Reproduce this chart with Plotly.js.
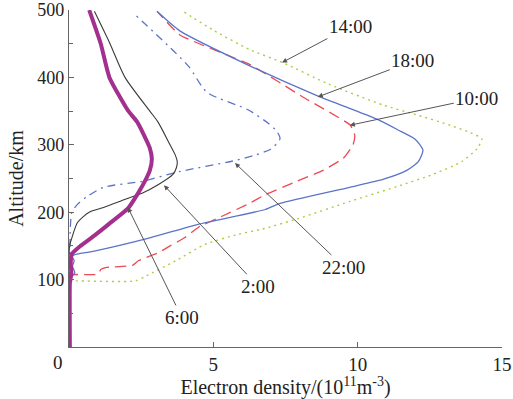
<!DOCTYPE html>
<html>
<head>
<meta charset="utf-8">
<script src="https://cdn.plot.ly/plotly-3.0.1.min.js"></script>
<style>
html,body{margin:0;padding:0;background:#fff;}
#chart{width:513px;height:399px;}
</style>
</head>
<body>
<div id="chart"></div>
<script>
// Electron density (10^11 m^-3) vs altitude (km)
const alt_0600 = [0, 95, 100, 110, 125, 138, 150, 166, 183, 206, 228, 246, 262, 279, 295, 305, 334, 351, 400, 450, 500];
const ne_0600  = [0.03, 0.03, 0.05, 0.08, 0.06, 0.1, 0.4, 0.9, 1.4, 2.05, 2.39, 2.63, 2.8, 2.87, 2.8, 2.7, 2.36, 2.04, 1.4, 1.1, 0.7];

const alt_0200 = [0, 150, 162, 185, 200, 207, 220, 228, 241, 256, 266, 275, 285, 300, 334, 350, 400, 450, 498];
const ne_0200  = [0.02, 0.02, 0.1, 0.3, 0.7, 1.2, 2.0, 2.53, 3.1, 3.6, 3.72, 3.75, 3.68, 3.5, 3.08, 2.8, 1.94, 1.42, 0.88];

const alt_2200 = [0, 130, 180, 200, 212, 224, 237, 246, 260, 276, 284, 294, 309, 320, 332, 352, 378, 417, 491];
const ne_2200  = [0.02, 0.03, 0.05, 0.1, 0.3, 0.66, 1.2, 2.56, 3.8, 5.68, 6.4, 7.0, 7.31, 7.2, 6.9, 6.2, 4.78, 4.13, 2.34];

const alt_1800 = [0, 100, 105, 110, 120, 128, 135, 138, 142, 162, 182, 204, 213, 237, 249, 262, 275, 292, 308, 322, 338, 373, 419, 469, 498];
const ne_1800  = [0.02, 0.02, 0.1, 0.2, 0.12, 0.18, 0.1, 0.3, 0.83, 2.8, 4.47, 6.8, 7.31, 9.73, 10.9, 11.7, 12.1, 12.26, 12.0, 11.4, 10.67, 8.59, 6.17, 3.84, 3.05];

const alt_1000 = [0, 100, 107, 108, 115, 118, 121, 128, 140, 150, 162, 178, 194, 212, 226, 246, 262, 280, 300, 314, 329, 371, 419, 463, 498];
const ne_1000  = [0.02, 0.02, 0.1, 1.0, 1.1, 1.3, 2.2, 2.4, 3.1, 3.5, 4.0, 4.5, 5.3, 6.2, 6.8, 7.9, 8.8, 9.5, 9.84, 9.9, 9.75, 8.1, 6.27, 3.84, 3.05];

const alt_1400 = [0, 97, 98, 98, 105, 128, 152, 167, 175, 190, 216, 240, 256, 275, 294, 309, 318, 329, 345, 359, 390, 422, 441, 470, 498];
const ne_1400  = [0.02, 0.02, 0.15, 2.3, 2.65, 3.7, 4.7, 5.85, 6.7, 7.9, 9.73, 11.5, 12.6, 13.6, 14.13, 14.3, 13.9, 13.2, 12.0, 10.88, 9.0, 7.4, 6.27, 5.0, 3.95];

const xTickVals = [5, 10, 15];
const yTickVals = [100, 200, 300, 400, 500];

// label, arrow-tip density, arrow-tip altitude
const labelText = ['14:00', '18:00', '10:00', '22:00', '2:00', '6:00'];
const labelNe   = [7.38, 8.62, 9.73, 5.75, 3.29, 2.04];
const labelAlt  = [422, 371, 329, 273, 240, 207];
const labelAx   = [68, 95, 127, 109, 94, 54];
const labelAy   = [-36, -36, -27, 104, 101, 110];

const serif = 'Liberation Serif, Times New Roman, serif';

function tr(x, y, color, width, dash, smooth) {
  return {x: x, y: y, type: 'scatter', mode: 'lines',
    line: {color: color, width: width, dash: dash, shape: 'spline', smoothing: smooth},
    hoverinfo: 'skip', showlegend: false};
}

const data = [
  tr(ne_1400, alt_1400, '#a6d043', 1.4, '2px,4px', 0.6),
  tr(ne_1000, alt_1000, '#ec4a52', 1.3, '11px,6px', 0.4),
  tr(ne_1800, alt_1800, '#5b74c9', 1.3, 'solid', 0.6),
  tr(ne_2200, alt_2200, '#5b74c9', 1.3, '8px,5px,2px,5px', 0.7),
  tr(ne_0200, alt_0200, '#3a3a3a', 1.1, 'solid', 0.7),
  tr(ne_0600, alt_0600, '#a3308e', 4, 'solid', 0.5)
];

const annotations = labelText.map((t, i) => ({
  x: labelNe[i], y: labelAlt[i], xref: 'x', yref: 'y',
  text: t, showarrow: true, ax: labelAx[i], ay: labelAy[i],
  arrowhead: 2, arrowsize: 1, arrowwidth: 1, arrowcolor: '#555',
  font: {family: serif, size: 19, color: '#222'}
}));
annotations.push({
  x: -0.025, y: -0.045, xref: 'paper', yref: 'paper', text: '0',
  xanchor: 'center', yanchor: 'middle',
  showarrow: false, font: {family: serif, size: 19, color: '#222'}
});

const layout = {
  width: 513, height: 399,
  margin: {l: 69, r: 11, t: 10, b: 52},
  paper_bgcolor: '#fff', plot_bgcolor: '#fff',
  font: {family: serif, color: '#222'},
  xaxis: {
    range: [0, 15], tickvals: xTickVals, ticks: 'inside', ticklen: 5,
    tickcolor: '#666', showline: true, linecolor: '#666', linewidth: 1.2,
    showgrid: false, zeroline: false, ticklabeloverflow: 'allow',
    tickfont: {family: serif, size: 19, color: '#222'},
    title: {text: 'Electron density/(10<sup>11</sup>m<sup>-3</sup>)', font: {family: serif, size: 20, color: '#222'}, standoff: 6}
  },
  yaxis: {
    range: [0, 500], tickvals: yTickVals, ticks: 'inside', ticklen: 5,
    tickcolor: '#666', showline: true, linecolor: '#666', linewidth: 1.2,
    minor: {ticks: 'inside', dtick: 50, ticklen: 4, tickcolor: '#666'},
    showgrid: false, zeroline: false, ticklabeloverflow: 'allow',
    tickfont: {family: serif, size: 18, color: '#222'},
    title: {text: 'Altitude/km', font: {family: serif, size: 20, color: '#222'}, standoff: 8}
  },
  annotations: annotations
};

Plotly.newPlot('chart', data, layout, {staticPlot: true});
</script>
</body>
</html>
